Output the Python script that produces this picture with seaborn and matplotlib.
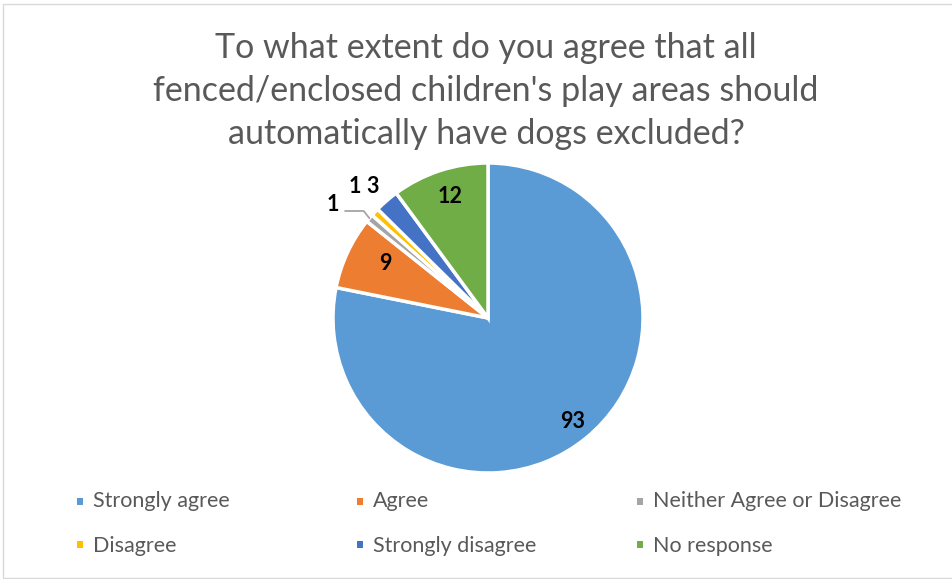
import matplotlib
matplotlib.use("Agg")
import matplotlib.pyplot as plt
import seaborn as sns
import numpy as np
from matplotlib.patches import Rectangle
from matplotlib.lines import Line2D

categories = ["Strongly agree", "Agree", "Neither Agree or Disagree",
              "Disagree", "Strongly disagree", "No response"]
values = [93, 9, 1, 1, 3, 12]
colors = ["#5B9BD5", "#ED7D31", "#A5A5A5", "#FFC000", "#4472C4", "#70AD47"]
title_lines = ["To what extent do you agree that all",
               "fenced/enclosed children's play areas should",
               "automatically have dogs excluded?"]

sns.set_theme(style="white")
plt.rcParams['font.family'] = ['Lato', 'DejaVu Sans']

W, H = 953, 579
fig = plt.figure(figsize=(W / 100, H / 100), dpi=100)
fig.patch.set_facecolor("white")

# chart frame
fig.patches.append(Rectangle((3 / W, 1 - 578 / H), 1.0, (578 - 4) / H,
                             transform=fig.transFigure, fill=False,
                             edgecolor="#D9D9D9", linewidth=1.0))

cx, cy, r = 488, 318, 155
ax = fig.add_axes([(cx - r) / W, (H - cy - r) / H, 2 * r / W, 2 * r / H])
pal = sns.color_palette(colors)
wedges, _ = ax.pie(values, colors=pal, startangle=90, counterclock=False,
                   radius=1.0,
                   wedgeprops=dict(edgecolor="white", linewidth=2.5))
ax.set_xlim(-1, 1)
ax.set_ylim(-1, 1)
ax.axis("off")

# data labels
total = sum(values)
dists = [0.86, 0.75, 1.24, 1.21, 1.13, 0.82]
angle_off = [0, -3, 4, -1.5, 0.5, -1]
start = 90.0
for i, v in enumerate(values):
    span = 360.0 * v / total
    mid = start - span / 2
    start -= span
    a = np.deg2rad(mid + angle_off[i])
    x, y = dists[i] * np.cos(a), dists[i] * np.sin(a)
    ax.text(x, y, str(v), ha="center", va="center", fontsize=15.5,
            fontweight="bold", color="black", clip_on=False)
    if i == 2:
        am = np.deg2rad(mid)
        ex, ey = 1.0 * np.cos(am), 1.0 * np.sin(am)
        ax.add_line(Line2D([x + 0.08, x + 0.2, ex], [y - 0.04, y - 0.04, ey],
                           color="#A5A5A5", linewidth=1.3, clip_on=False))

# title
for k, line in enumerate(title_lines):
    fig.text(486 / W, 1 - (58 + 43 * k) / H, line, ha="center", va="baseline",
             fontsize=24.5, color="#595959")

# legend
col_x = [77, 357, 637]
row_base = [507, 552]
row_mark = [498, 541]
for i, (lab, c) in enumerate(zip(categories, colors)):
    rx = col_x[i % 3]
    fig.patches.append(Rectangle((rx / W, 1 - (row_mark[i // 3] + 7) / H),
                                 6 / W, 7 / H,
                                 transform=fig.transFigure, facecolor=c,
                                 edgecolor="none"))
    fig.text((rx + 16) / W, 1 - row_base[i // 3] / H, lab, ha="left",
             va="baseline", fontsize=15.5, color="#595959")

fig.savefig("out.png", dpi=100, facecolor="white")
